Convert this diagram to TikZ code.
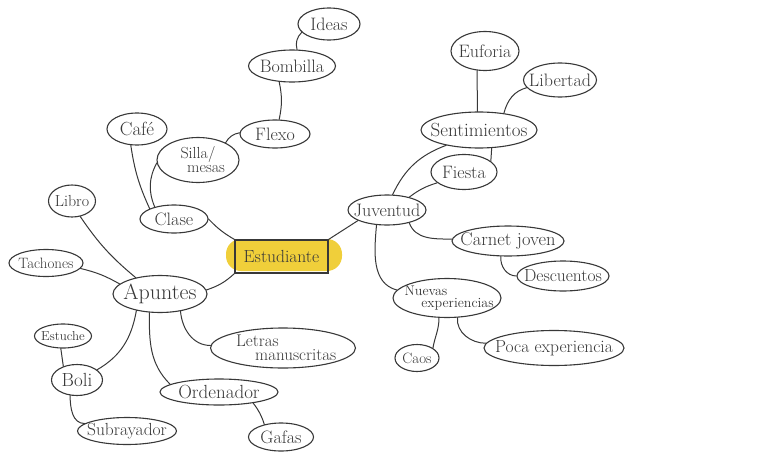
\documentclass[tikz,border=0pt]{standalone}
\usepackage{fontspec}
\usetikzlibrary{shapes.geometric}

\begin{document}
\begin{tikzpicture}[x=1pt,y=-1pt,
  bubble/.style={ellipse,draw=inkgray,line width=1.1pt,
    inner xsep=-20pt,inner ysep=-6pt,
    font=\fontsize{18}{18}\selectfont,text=inkgray},
  twoline/.style={bubble,align=center,font=\fontsize{14}{13}\selectfont},
  branch/.style={draw=inkgray,line width=1pt,line cap=round}]
\colorlet{inkgray}{black!78}
\definecolor{marker}{HTML}{F0CF3A}

\useasboundingbox (0,0) rectangle (768,455);

% centre
\fill[marker,rounded corners=15pt] (226,239) rectangle (342,271);
\node[draw=inkgray,line width=1.1pt,minimum width=93pt,minimum height=33pt,
  inner sep=0pt,font=\fontsize{17.5}{17.5}\selectfont,text=inkgray]
  (estudiante) at (281.5,256.5) {Estudiante};

% left side
\node[bubble,minimum width=62pt,minimum height=32pt] (ideas) at (329,24) {Ideas};
\node[bubble,minimum width=87pt,minimum height=32pt] (bombilla) at (292,66) {Bombilla};
\node[bubble,minimum width=70pt,minimum height=28pt] (flexo) at (275,134) {Flexo};
\node[twoline,minimum width=82pt,minimum height=45pt,font=\fontsize{16}{14}\selectfont] (silla) at (198,160) {Silla/\\\hspace*{1em}mesas};
\node[bubble,minimum width=60pt,minimum height=32pt,font=\fontsize{19}{19}\selectfont] (cafe) at (137,129) {Café};
\node[bubble,minimum width=68pt,minimum height=28pt] (clase) at (174,219) {Clase};
\node[bubble,minimum width=47pt,minimum height=32pt,font=\fontsize{16}{16}\selectfont] (libro) at (72,201) {Libro};
\node[bubble,minimum width=74pt,minimum height=27pt,font=\fontsize{15}{15}\selectfont] (tachones) at (46,263) {Tachones};
\node[bubble,minimum width=94pt,minimum height=37pt,font=\fontsize{22}{22}\selectfont] (apuntes) at (160,294) {Apuntes};
\node[bubble,minimum width=57pt,minimum height=24pt,font=\fontsize{13}{13}\selectfont] (estuche) at (63,336) {Estuche};
\node[bubble,minimum width=51pt,minimum height=31pt,font=\fontsize{19}{19}\selectfont] (boli) at (77,380) {Boli};
\node[bubble,minimum width=99pt,minimum height=27pt,font=\fontsize{17.5}{17.5}\selectfont] (subrayador) at (127,431) {Subrayador};
\node[bubble,minimum width=118pt,minimum height=26pt,font=\fontsize{19}{19}\selectfont] (ordenador) at (219,392) {Ordenador};
\node[bubble,minimum width=65pt,minimum height=28pt] (gafas) at (281,437) {Gafas};
\node[twoline,minimum width=145pt,minimum height=40pt,font=\fontsize{17}{14}\selectfont] (letras) at (283,348) {Letras\hspace*{3em}\\\hspace*{1.5em}manuscritas};

% right side
\node[bubble,minimum width=78pt,minimum height=30pt] (juventud) at (387,210) {Juventud};
\node[bubble,minimum width=116pt,minimum height=36pt,font=\fontsize{19}{19}\selectfont] (sentimientos) at (479,130) {Sentimientos};
\node[bubble,minimum width=68pt,minimum height=39pt] (euforia) at (485,51) {Euforia};
\node[bubble,minimum width=73pt,minimum height=34pt] (libertad) at (560,80) {Libertad};
\node[bubble,minimum width=66pt,minimum height=35pt] (fiesta) at (464,172) {Fiesta};
\node[bubble,minimum width=112pt,minimum height=30pt,font=\fontsize{18.5}{18.5}\selectfont] (carnet) at (508,241) {Carnet joven};
\node[bubble,minimum width=92pt,minimum height=30pt,font=\fontsize{17.5}{17.5}\selectfont] (descuentos) at (563,276) {Descuentos};
\node[twoline,minimum width=108pt,minimum height=39pt,font=\fontsize{14}{12}\selectfont] (nuevas) at (447,298) {Nuevas\hspace*{3em}\\\hspace*{1.5em}experiencias};
\node[bubble,minimum width=44pt,minimum height=27pt,font=\fontsize{15}{15}\selectfont] (caos) at (417,358) {Caos};
\node[bubble,minimum width=140pt,minimum height=35pt,font=\fontsize{17.5}{17.5}\selectfont] (poca) at (554,348) {Poca experiencia};

% branches from the centre
\draw[branch] (estudiante.north west) to[bend left=8] (clase.0);
\draw[branch] (estudiante.south west) to[bend left=12] (apuntes.5);
\draw[branch] (estudiante.north east) -- (juventud.200);

% Clase
\draw[branch] (silla.184) to[bend right=25] (clase.148);
\draw[branch] (cafe.249) to[bend right=8] (clase.157);
\draw[branch] (silla.32) to[bend left=25] (flexo.178);
\draw[branch] (bombilla.231) to[bend left=12] (flexo.74);
\draw[branch] (ideas.197) to[bend right=30] (bombilla.73);

% Apuntes
\draw[branch] (libro.298) to[bend right=8] (apuntes.146);
\draw[branch] (tachones.351) to[bend left=8] (apuntes.166);
\draw[branch] (apuntes.215) to[out=260,in=30] (boli.27);
\draw[branch] (apuntes.240) to[out=270,in=135] (ordenador.171);
\draw[branch] (apuntes.320) to[out=275,in=180] (letras.178);
\draw[branch] (estuche.260) -- (boli.135);
\draw[branch] (boli.246) to[out=270,in=180] (subrayador.170);
\draw[branch] (ordenador.342) to[bend left=10] (gafas.143);

% Juventud
\draw[branch] (juventud.70) to[bend left=22] (sentimientos.205);
\draw[branch] (juventud.30) to[bend left=10] (fiesta.202);
\draw[branch] (juventud.330) to[out=290,in=180] (carnet.178);
\draw[branch] (juventud.235) to[out=265,in=165] (nuevas.171);
\draw[branch] (euforia.248) -- (sentimientos.95);
\draw[branch] (libertad.193) to[out=195,in=75] (sentimientos.34);
\draw[branch] (sentimientos.305) -- (fiesta.22);
\draw[branch] (carnet.245) to[out=265,in=180] (descuentos.180);
\draw[branch] (nuevas.248) to[out=270,in=80] (caos.32);
\draw[branch] (nuevas.298) to[out=265,in=180] (poca.176);
\end{tikzpicture}
\end{document}
